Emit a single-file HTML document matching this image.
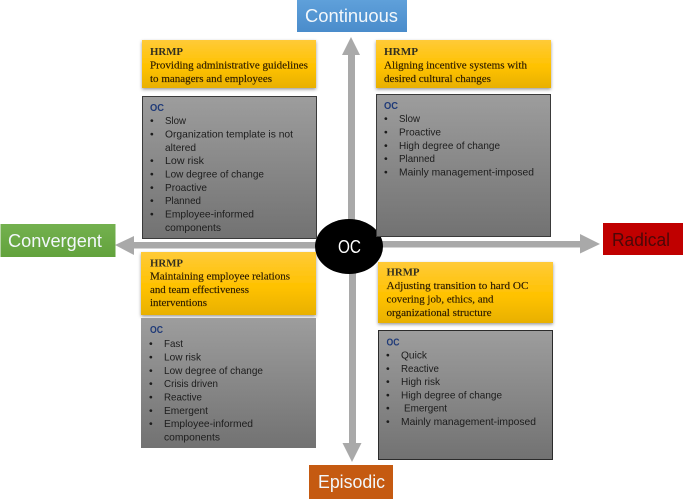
<!DOCTYPE html>
<html>
<head>
<meta charset="utf-8">
<style>
html,body{margin:0;padding:0;background:#fff;width:683px;height:499px;overflow:hidden}
svg{display:block}
.s{font-family:"Liberation Sans",sans-serif;font-size:10.5px;fill:#1c1c1c}
.h{font-family:"Liberation Serif",serif;font-size:11px;fill:#2a1a00;stroke:#2a1a00;stroke-width:.15px}
.hb{font-family:"Liberation Serif",serif;font-size:11px;font-weight:bold;fill:#33301f}
.o{font-family:"Liberation Sans",sans-serif;font-size:10.5px;font-weight:bold;fill:#1f3a78}
.l{font-family:"Liberation Sans",sans-serif;font-size:18.5px;fill:#f2f7fb}
</style>
</head>
<body>
<svg width="683" height="499" viewBox="0 0 683 499" xmlns="http://www.w3.org/2000/svg">
<defs>
<linearGradient id="g" x1="0" y1="0" x2="0" y2="1"><stop offset="0" stop-color="#9d9d9d"/><stop offset="1" stop-color="#727272"/></linearGradient>
<linearGradient id="y" x1="0" y1="0" x2="0" y2="1"><stop offset="0" stop-color="#ffca38"/><stop offset=".55" stop-color="#ffc200"/><stop offset="1" stop-color="#e8b000"/></linearGradient>
<linearGradient id="b" x1="0" y1="0" x2="0" y2="1"><stop offset="0" stop-color="#5fa0da"/><stop offset="1" stop-color="#4a8ccb"/></linearGradient>
<linearGradient id="gr" x1="0" y1="0" x2="0" y2="1"><stop offset="0" stop-color="#74b14f"/><stop offset="1" stop-color="#62a23c"/></linearGradient>
<filter id="sh" x="-5%" y="-10%" width="110%" height="125%"><feDropShadow dx="0" dy="1.5" stdDeviation="1.5" flood-color="#000" flood-opacity=".4"/></filter>
</defs>

<!-- axes -->
<g fill="#a9a9a9">
<rect x="348" y="52" width="7" height="175"/>
<polygon points="351,37 342,55 360,55"/>
<rect x="349" y="270" width="7" height="175"/>
<polygon points="352,462 342.500,443 361.500,443"/>
<rect x="380" y="241" width="202" height="6.500"/>
<polygon points="600,244 580,234 580,253.500"/>
<rect x="132" y="242" width="186" height="6.500"/>
<polygon points="115,245 134,236 134,255"/>
</g>

<!-- end labels -->
<rect x="297" y="0" width="110" height="32" fill="url(#b)"/>
<text class="l" x="305" y="22" textLength="93" lengthAdjust="spacingAndGlyphs">Continuous</text>
<rect x="0.500" y="224" width="115" height="33" fill="url(#gr)"/>
<text class="l" x="8" y="247" textLength="94" lengthAdjust="spacingAndGlyphs">Convergent</text>
<rect x="603" y="223" width="80" height="32" fill="#c00000"/>
<text class="l" x="612" y="246" textLength="58" lengthAdjust="spacingAndGlyphs" style="fill:#4a0808">Radical</text>
<rect x="309" y="465" width="84" height="34" fill="#c55a11"/>
<text class="l" x="318" y="488" textLength="67" lengthAdjust="spacingAndGlyphs">Episodic</text>

<!-- centre -->
<ellipse cx="349" cy="246.500" rx="34" ry="27.500" fill="#000"/>
<text class="l" x="338" y="253" textLength="23" lengthAdjust="spacingAndGlyphs" style="fill:#fff">OC</text>

<!-- top left -->
<rect x="142" y="40" width="174" height="48" fill="url(#y)" filter="url(#sh)"/>
<text class="hb" x="150" y="55" textLength="33" lengthAdjust="spacingAndGlyphs">HRMP</text>
<text class="h" x="150" y="68.500" textLength="158" lengthAdjust="spacingAndGlyphs">Providing administrative guidelines</text>
<text class="h" x="150" y="82" textLength="122" lengthAdjust="spacingAndGlyphs">to managers and employees</text>
<rect x="142.500" y="96.500" width="174" height="142" fill="url(#g)" stroke="#3a3a3a" stroke-width="1"/>
<text class="o" x="150" y="111" textLength="14" lengthAdjust="spacingAndGlyphs">OC</text>
<text class="s" x="150" y="124">•</text><text class="s" x="165" y="124" textLength="21" lengthAdjust="spacingAndGlyphs">Slow</text>
<text class="s" x="150" y="137.500">•</text><text class="s" x="165" y="137.500" textLength="128" lengthAdjust="spacingAndGlyphs">Organization template is not</text>
<text class="s" x="165" y="151" textLength="31" lengthAdjust="spacingAndGlyphs">altered</text>
<text class="s" x="150" y="164">•</text><text class="s" x="165" y="164" textLength="39" lengthAdjust="spacingAndGlyphs">Low  risk</text>
<text class="s" x="150" y="177.500">•</text><text class="s" x="165" y="177.500" textLength="99" lengthAdjust="spacingAndGlyphs">Low degree of change</text>
<text class="s" x="150" y="191">•</text><text class="s" x="165" y="191" textLength="42" lengthAdjust="spacingAndGlyphs">Proactive</text>
<text class="s" x="150" y="204">•</text><text class="s" x="165" y="204" textLength="36" lengthAdjust="spacingAndGlyphs">Planned</text>
<text class="s" x="150" y="217.500">•</text><text class="s" x="165" y="217.500" textLength="89" lengthAdjust="spacingAndGlyphs">Employee-informed</text>
<text class="s" x="165" y="231" textLength="56" lengthAdjust="spacingAndGlyphs">components</text>

<!-- top right -->
<rect x="376" y="40" width="175" height="48" fill="url(#y)" filter="url(#sh)"/>
<text class="hb" x="384" y="55" textLength="34" lengthAdjust="spacingAndGlyphs">HRMP</text>
<text class="h" x="384" y="68.500" textLength="143" lengthAdjust="spacingAndGlyphs">Aligning incentive systems with</text>
<text class="h" x="384" y="82" textLength="107" lengthAdjust="spacingAndGlyphs">desired cultural changes</text>
<rect x="376.500" y="94.500" width="174" height="142" fill="url(#g)" stroke="#3a3a3a" stroke-width="1"/>
<text class="o" x="384" y="109" textLength="14" lengthAdjust="spacingAndGlyphs">OC</text>
<text class="s" x="384" y="122">•</text><text class="s" x="399" y="122" textLength="21" lengthAdjust="spacingAndGlyphs">Slow</text>
<text class="s" x="384" y="135.500">•</text><text class="s" x="399" y="135.500" textLength="42" lengthAdjust="spacingAndGlyphs">Proactive</text>
<text class="s" x="384" y="149">•</text><text class="s" x="399" y="149" textLength="101" lengthAdjust="spacingAndGlyphs">High degree of change</text>
<text class="s" x="384" y="162">•</text><text class="s" x="399" y="162" textLength="36" lengthAdjust="spacingAndGlyphs">Planned</text>
<text class="s" x="384" y="175.500">•</text><text class="s" x="399" y="175.500" textLength="135" lengthAdjust="spacingAndGlyphs">Mainly management-imposed</text>

<!-- bottom left -->
<rect x="141" y="252" width="175" height="63" fill="url(#y)" filter="url(#sh)"/>
<text class="hb" x="150" y="266.500" textLength="33" lengthAdjust="spacingAndGlyphs">HRMP</text>
<text class="h" x="150" y="279.500" textLength="140" lengthAdjust="spacingAndGlyphs">Maintaining employee relations</text>
<text class="h" x="150" y="293" textLength="99" lengthAdjust="spacingAndGlyphs">and team effectiveness</text>
<text class="h" x="150" y="306" textLength="57" lengthAdjust="spacingAndGlyphs">interventions</text>
<rect x="141" y="318" width="175" height="130" fill="url(#g)"/>
<text class="o" x="150" y="333" textLength="13" lengthAdjust="spacingAndGlyphs">OC</text>
<text class="s" x="149" y="347">•</text><text class="s" x="164" y="347" textLength="19" lengthAdjust="spacingAndGlyphs">Fast</text>
<text class="s" x="149" y="360.500">•</text><text class="s" x="164" y="360.500" textLength="37" lengthAdjust="spacingAndGlyphs">Low risk</text>
<text class="s" x="149" y="374">•</text><text class="s" x="164" y="374" textLength="99" lengthAdjust="spacingAndGlyphs">Low degree of change</text>
<text class="s" x="149" y="387">•</text><text class="s" x="164" y="387" textLength="54" lengthAdjust="spacingAndGlyphs">Crisis driven</text>
<text class="s" x="149" y="400.500">•</text><text class="s" x="164" y="400.500" textLength="38" lengthAdjust="spacingAndGlyphs">Reactive</text>
<text class="s" x="149" y="414">•</text><text class="s" x="164" y="414" textLength="44" lengthAdjust="spacingAndGlyphs">Emergent</text>
<text class="s" x="149" y="427">•</text><text class="s" x="164" y="427" textLength="89" lengthAdjust="spacingAndGlyphs">Employee-informed</text>
<text class="s" x="164" y="440.500" textLength="56" lengthAdjust="spacingAndGlyphs">components</text>

<!-- bottom right -->
<rect x="378" y="262" width="175" height="61" fill="url(#y)" filter="url(#sh)"/>
<text class="hb" x="386.500" y="275.500" textLength="33" lengthAdjust="spacingAndGlyphs">HRMP</text>
<text class="h" x="386.500" y="289" textLength="142" lengthAdjust="spacingAndGlyphs">Adjusting transition to hard  OC</text>
<text class="h" x="386.500" y="302.500" textLength="107" lengthAdjust="spacingAndGlyphs">covering job, ethics, and</text>
<text class="h" x="386.500" y="316" textLength="105" lengthAdjust="spacingAndGlyphs">organizational structure</text>
<rect x="378.500" y="330.500" width="174" height="129" fill="url(#g)" stroke="#2b2b2b" stroke-width="1"/>
<text class="o" x="386.500" y="345.500" textLength="13" lengthAdjust="spacingAndGlyphs">OC</text>
<text class="s" x="386" y="358.500">•</text><text class="s" x="401" y="358.500" textLength="26" lengthAdjust="spacingAndGlyphs">Quick</text>
<text class="s" x="386" y="372">•</text><text class="s" x="401" y="372" textLength="38" lengthAdjust="spacingAndGlyphs">Reactive</text>
<text class="s" x="386" y="385">•</text><text class="s" x="401" y="385" textLength="39" lengthAdjust="spacingAndGlyphs">High risk</text>
<text class="s" x="386" y="398.500">•</text><text class="s" x="401" y="398.500" textLength="101" lengthAdjust="spacingAndGlyphs">High degree of change</text>
<text class="s" x="386" y="411.500">•</text><text class="s" x="404" y="411.500" textLength="43" lengthAdjust="spacingAndGlyphs">Emergent</text>
<text class="s" x="386" y="425">•</text><text class="s" x="401" y="425" textLength="135" lengthAdjust="spacingAndGlyphs">Mainly management-imposed</text>
</svg>
</body>
</html>
